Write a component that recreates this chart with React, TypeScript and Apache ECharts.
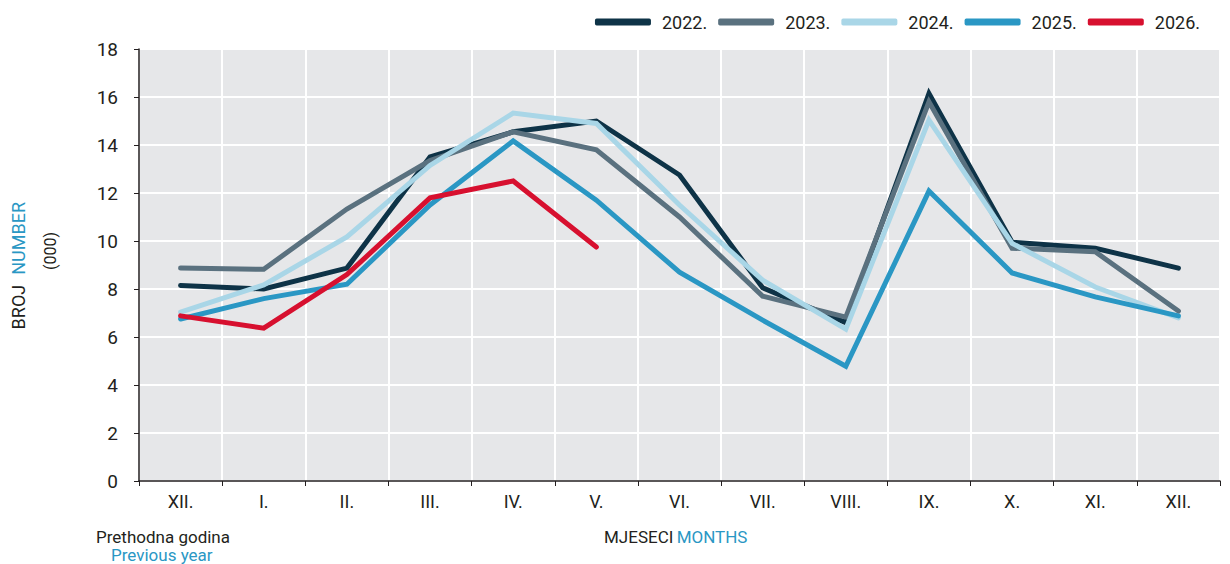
import React, { useEffect, useRef } from "react";
import * as echarts from "echarts";

const months = ["XII.", "I.", "II.", "III.", "IV.", "V.", "VI.", "VII.", "VIII.", "IX.", "X.", "XI.", "XII."];
const yTicks = [0, 2, 4, 6, 8, 10, 12, 14, 16, 18];

const s2022 = [8.15, 8.0, 8.87, 13.5, 14.55, 15.0, 12.75, 8.05, 6.6, 16.15, 9.95, 9.7, 8.87];
const s2023 = [8.87, 8.82, 11.33, 13.35, 14.55, 13.8, 11.0, 7.7, 6.83, 15.8, 9.7, 9.55, 7.08];
const s2024 = [7.04, 8.17, 10.17, 13.15, 15.33, 14.9, 11.5, 8.37, 6.33, 15.04, 9.9, 8.08, 6.8];
const s2025 = [6.75, 7.6, 8.2, 11.5, 14.17, 11.7, 8.7, 6.7, 4.78, 12.08, 8.67, 7.67, 6.88];
const s2026 = [6.88, 6.37, 8.6, 11.8, 12.5, 9.75];

const seriesNames = ["2022.", "2023.", "2024.", "2025.", "2026."];
const seriesColors = ["#0e3347", "#5a717f", "#a9d6e7", "#2a97c4", "#d7102f"];
const seriesData = [s2022, s2023, s2024, s2025, s2026];

const FONT = "Roboto, 'Liberation Sans', sans-serif";

export default function App() {
  const ref = useRef<HTMLDivElement>(null);
  useEffect(() => {
    if (!ref.current) return;
    const chart = echarts.init(ref.current, undefined, { renderer: "svg" });
    chart.setOption({
      animation: false,
      textStyle: { fontFamily: FONT },
      legend: {
        right: 25,
        top: 8,
        itemWidth: 56,
        itemHeight: 7,
        itemGap: 11,
        icon: "roundRect",
        textStyle: { fontSize: 18, color: "#231f20", fontFamily: FONT, padding: [0, 0, 0, 6] },
        data: seriesNames,
      },
      grid: {
        left: 139,
        right: 10,
        top: 49,
        bottom: 83,
        show: true,
        backgroundColor: "#e6e7e9",
        borderWidth: 0,
      },
      xAxis: {
        type: "category",
        data: months,
        boundaryGap: true,
        axisLine: { show: true, lineStyle: { color: "#231f20", width: 1.5 } },
        axisTick: { show: true, length: 5, lineStyle: { color: "#231f20" } },
        axisLabel: { fontSize: 18, color: "#231f20", margin: 11, fontFamily: FONT },
        splitLine: { show: true, lineStyle: { color: "#ffffff", width: 2 } },
      },
      yAxis: {
        type: "value",
        min: yTicks[0],
        max: yTicks[yTicks.length - 1],
        interval: 2,
        axisLine: { show: true, lineStyle: { color: "#231f20", width: 1.5 } },
        axisTick: { show: true, length: 5, lineStyle: { color: "#231f20" } },
        axisLabel: { fontSize: 19, color: "#231f20", margin: 21, fontFamily: FONT },
        splitLine: { show: true, lineStyle: { color: "#ffffff", width: 2 } },
      },
      series: seriesNames.map((name, i) => ({
        name,
        type: "line",
        data: seriesData[i],
        symbol: "none",
        lineStyle: { color: seriesColors[i], width: 5, cap: "round", join: "miter" },
        itemStyle: { color: seriesColors[i] },
        z: 2 + i,
      })),
      graphic: [
        {
          type: "text",
          left: 9,
          top: 202,
          rotation: Math.PI / 2,
          style: {
            text: "{a|BROJ}   {b|NUMBER}",
            rich: {
              a: { fill: "#231f20", fontSize: 18, fontFamily: FONT },
              b: { fill: "#2a97c4", fontSize: 18, fontFamily: FONT },
            },
          },
        },
        {
          type: "text",
          x: 42,
          y: 270,
          rotation: Math.PI / 2,
          style: { text: "(000)", fill: "#231f20", fontSize: 16, fontFamily: FONT },
        },
        {
          type: "text",
          left: 604,
          top: 528,
          style: {
            text: "{a|MJESECI} {b|MONTHS}",
            rich: {
              a: { fill: "#231f20", fontSize: 17, fontFamily: FONT },
              b: { fill: "#2a97c4", fontSize: 17, fontFamily: FONT },
            },
          },
        },
        {
          type: "text",
          left: 96,
          top: 528,
          style: { text: "Prethodna godina", fill: "#231f20", fontSize: 17, fontFamily: FONT },
        },
        {
          type: "text",
          left: 111,
          top: 546,
          style: { text: "Previous year", fill: "#2a97c4", fontSize: 17, fontFamily: FONT },
        },
      ],
    });
    return () => chart.dispose();
  }, []);
  return (
    <div
      ref={ref}
      style={{ position: "fixed", left: 0, top: 0, width: 1230, height: 564, background: "#ffffff" }}
    />
  );
}
